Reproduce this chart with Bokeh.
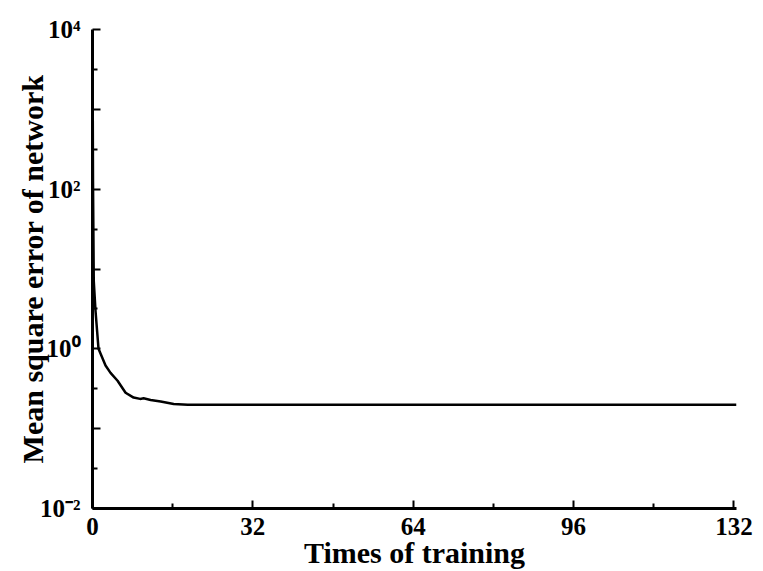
from bokeh.plotting import figure
from bokeh.models import Range1d, FixedTicker, ColumnDataSource
from bokeh.embed import file_html
from bokeh.resources import INLINE

# ---- data ----
train_times = [0.0, 0.1, 0.25, 0.6, 1.2, 2.6, 3.6, 5.0, 6.6, 8.2, 9.5, 10.2, 11.6,
               13.6, 16.2, 19.0, 40.0, 64.0, 96.0, 128.5]
mse = [8000.0, 126.0, 7.1, 3.0, 1.0, 0.617, 0.50, 0.398, 0.282, 0.245, 0.236, 0.240,
       0.229, 0.219, 0.204, 0.200, 0.200, 0.200, 0.200, 0.200]

x_ticks = [0, 32, 64, 96, 128]
x_tick_labels = ["0", "32", "64", "96", "132"]
x_minor_ticks = [16, 48, 80, 112]
y_ticks = [1e-2, 1e-1, 1e0, 1e1, 1e2, 1e3, 1e4]
y_tick_labels = ["10\u207b\u00b2", "", "10\u2070", "", "10\u00b2", "", "10\u2074"]
y_minor_ticks = [10 ** -1.5, 10 ** -0.5, 10 ** 0.5, 10 ** 1.5, 10 ** 2.5, 10 ** 3.5]

FONT = "Liberation Serif"

p = figure(width=763, height=571, output_backend="svg", toolbar_location=None,
           y_axis_type="log",
           x_range=Range1d(0, 128.5), y_range=Range1d(1e-2, 1e4),
           min_border_left=92, min_border_right=27, min_border_top=29, min_border_bottom=63)
p.outline_line_color = None
p.xgrid.visible = False
p.ygrid.visible = False
p.background_fill_color = "white"
p.border_fill_color = "white"

src = ColumnDataSource(dict(x=train_times, y=mse))
p.line("x", "y", source=src, line_color="black", line_width=2.5)

xa = p.xaxis[0]
xa.ticker = FixedTicker(ticks=x_ticks, minor_ticks=x_minor_ticks)
xa.major_label_overrides = {t: l for t, l in zip(x_ticks, x_tick_labels)}
ya = p.yaxis[0]
ya.ticker = FixedTicker(ticks=y_ticks, minor_ticks=y_minor_ticks)
ya.major_label_overrides = {t: l for t, l in zip(y_ticks, y_tick_labels)}

for ax in (xa, ya):
    ax.axis_line_width = 3
    ax.axis_line_color = "black"
    ax.major_tick_in = 8
    ax.major_tick_out = 0
    ax.minor_tick_in = 5
    ax.minor_tick_out = 0
    ax.major_tick_line_width = 2
    ax.minor_tick_line_width = 2
    ax.major_label_text_font = FONT
    ax.major_label_text_font_style = "bold"
    ax.major_label_text_font_size = "25px"
    ax.major_label_text_color = "black"
    ax.axis_label_text_font = FONT
    ax.axis_label_text_font_style = "bold"
    ax.axis_label_text_font_size = "30px"
    ax.axis_label_text_color = "black"

xa.axis_label = "Times of training"
xa.major_label_standoff = 9
xa.axis_label_standoff = -2
ya.axis_label = "Mean square error of network"
ya.major_label_standoff = 12
ya.axis_label_standoff = -12

open("out.html", "w").write(file_html(p, INLINE))
